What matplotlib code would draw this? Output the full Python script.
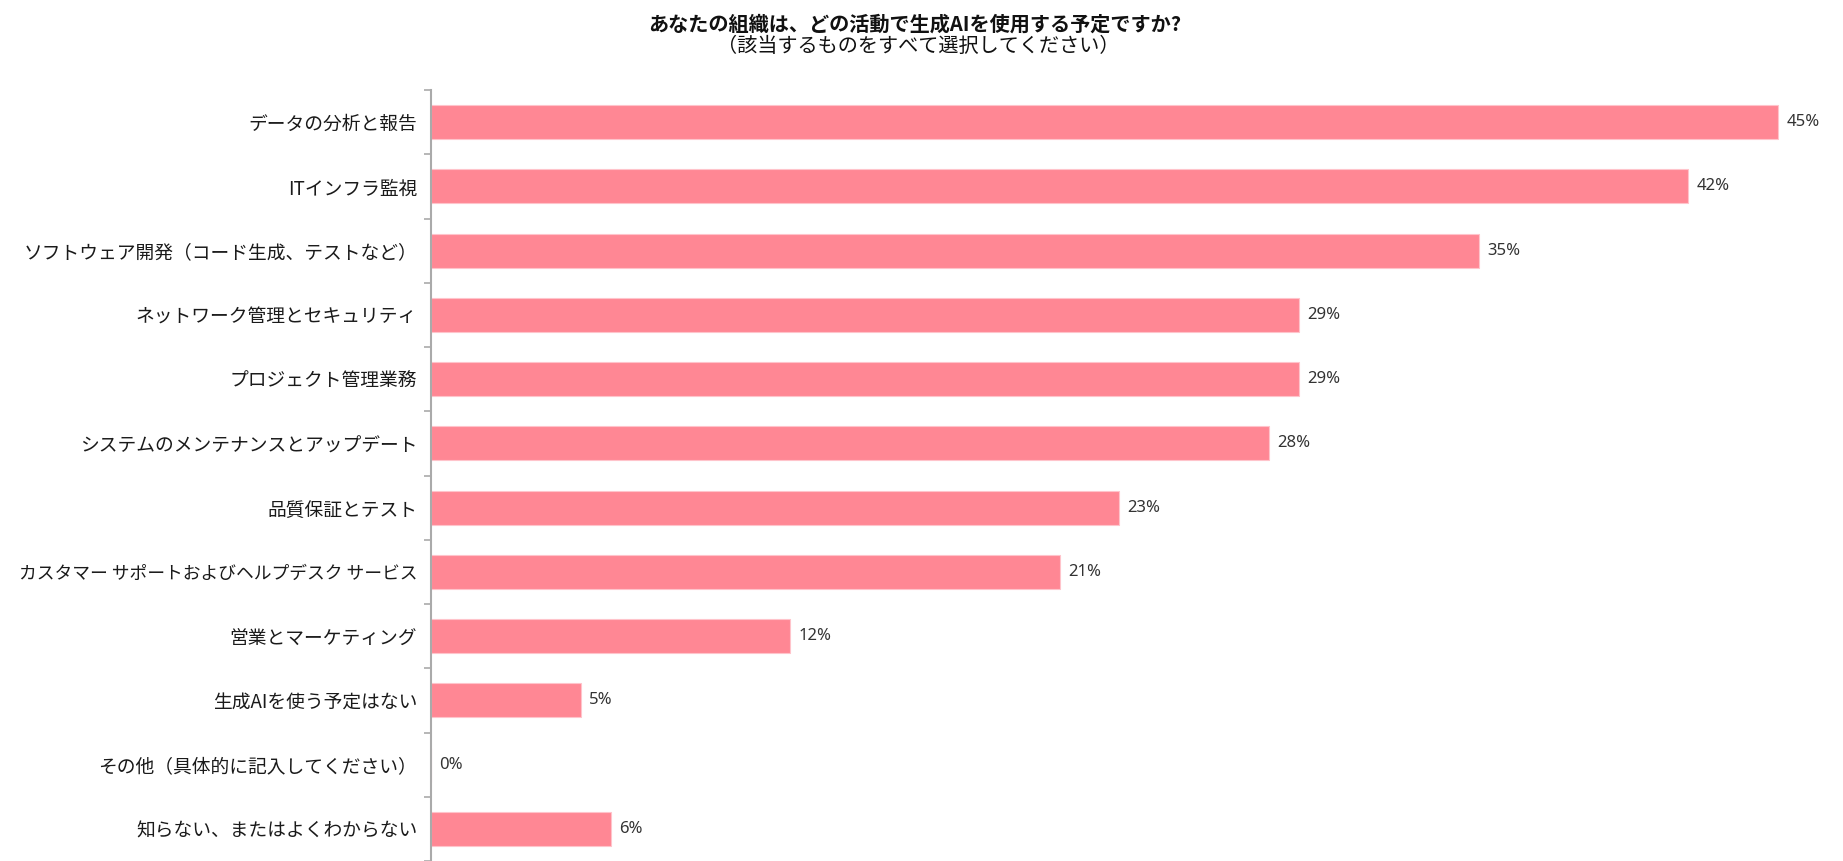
import matplotlib
matplotlib.use("Agg")
import matplotlib.pyplot as plt
import numpy as np

plt.rcParams['font.family'] = ['Noto Sans CJK JP', 'DejaVu Sans']

title_line1 = "あなたの組織は、どの活動で生成AIを使用する予定ですか?"
title_line2 = "（該当するものをすべて選択してください）"

categories = [
    "データの分析と報告",
    "ITインフラ監視",
    "ソフトウェア開発（コード生成、テストなど）",
    "ネットワーク管理とセキュリティ",
    "プロジェクト管理業務",
    "システムのメンテナンスとアップデート",
    "品質保証とテスト",
    "カスタマー サポートおよびヘルプデスク サービス",
    "営業とマーケティング",
    "生成AIを使う予定はない",
    "その他（具体的に記入してください）",
    "知らない、またはよくわからない",
]
values = [45, 42, 35, 29, 29, 28, 23, 21, 12, 5, 0, 6]

W, H = 1843, 861
fig = plt.figure(figsize=(W / 100, H / 100), dpi=100)

ax_left, ax_top = 431, 90
ax = fig.add_axes([ax_left / W, 0, (W - ax_left) / W, (H - ax_top) / H])

bar_color = "#FF8794"
y = np.arange(len(categories))
ax.barh(y, values, height=0.53, color=bar_color, edgecolor="#FFC4CB", linewidth=0.8)

px_per_unit = 29.93
ax.set_xlim(0, (W - ax_left) / px_per_unit)
ax.set_ylim(len(categories) - 0.5, -0.5)

for yi, v in zip(y, values):
    ax.annotate(f"{v}%", xy=(v, yi), xytext=(6, 0), textcoords="offset points",
                va="center", ha="left", fontsize=12, color="#333333",
                family=["Noto Sans", "DejaVu Sans"])

# boundary tick marks, labels at the band centres
ax.set_yticks(np.arange(-0.5, len(categories), 1.0))
ax.set_yticklabels([])
ax.set_yticks(y, minor=True)
labels = ax.set_yticklabels(categories, minor=True, fontsize=13.5, color="#1a1a1a")
for lab in labels:
    if len(lab.get_text()) > 22:
        lab.set_fontsize(12.8)
ax.tick_params(axis="y", which="major", length=5, width=1.2, color="#aaaaaa")
ax.tick_params(axis="y", which="minor", length=0, pad=10)

ax.xaxis.set_visible(False)
for s in ("top", "right", "bottom"):
    ax.spines[s].set_visible(False)
ax.spines["left"].set_color("#aaaaaa")
ax.spines["left"].set_linewidth(1.5)

fig.text(0.4965, 1 - 24 / H, title_line1, ha="center", va="center",
         fontsize=14.5, fontweight="bold", color="#111111")
fig.text(0.4985, 1 - 46 / H, title_line2, ha="center", va="center",
         fontsize=14.5, color="#111111")

fig.savefig("out.png", dpi=100)
